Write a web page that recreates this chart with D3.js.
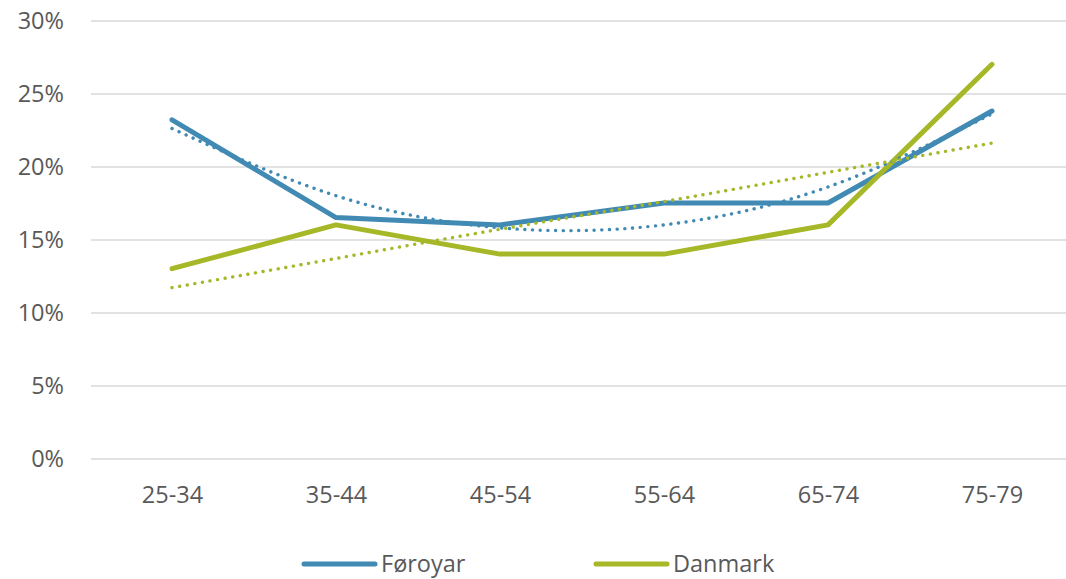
<!DOCTYPE html>
<html>
<head>
<meta charset="utf-8">
<script src="https://cdn.jsdelivr.net/npm/d3@7"></script>
<style>
  body { margin: 0; background: #fff; }
  text { font-family: "Open Sans", "Noto Sans", sans-serif; fill: #595959; }
</style>
</head>
<body>
<div id="chart"></div>
<script>
"use strict";

// age groups along the x axis
var categories = ["25-34", "35-44", "45-54", "55-64", "65-74", "75-79"];
// shares in percent
var foroyar = [23.2, 16.5, 16.0, 17.5, 17.5, 23.8];
var danmark = [13.0, 16.0, 14.0, 14.0, 16.0, 27.0];
var foroyarTrend = [22.6, 18.0, 15.8, 16.0, 18.6, 23.6];
var danmarkTrend = [11.7, 13.7, 15.7, 17.6, 19.6, 21.6];
var yTicks = [0, 5, 10, 15, 20, 25, 30];

var width = 1066, height = 579;

var svg = d3.select("#chart").append("svg")
    .attr("width", width)
    .attr("height", height);

var x = d3.scalePoint().domain(categories).range([172, 992]);
var y = d3.scaleLinear().domain([0, 30]).range([458.5, 20.5]);

// gridlines + y labels
var yAxis = d3.axisLeft(y)
    .tickValues(yTicks)
    .tickSize(-(width - 91))
    .tickPadding(27)
    .tickFormat(function(d) { return d + "%"; });

var gy = svg.append("g")
    .attr("transform", "translate(91,0)")
    .call(yAxis);
gy.select(".domain").remove();
gy.selectAll(".tick line").attr("stroke", "#d9d9d9").attr("stroke-width", 1.3);
gy.selectAll(".tick text").attr("font-size", 23.5).attr("dy", "0.36em");

// x labels
var xAxis = d3.axisBottom(x).tickSize(0).tickPadding(0);
var gx = svg.append("g")
    .attr("transform", "translate(0,495)")
    .call(xAxis);
gx.select(".domain").remove();
gx.selectAll(".tick text").attr("font-size", 23.5).attr("dy", "0.36em");

var series = [
    { name: "Føroyar", values: foroyar, trend: foroyarTrend, color: "#418ab3" },
    { name: "Danmark", values: danmark, trend: danmarkTrend, color: "#a6b727" }
];

var line = d3.line()
    .x(function(d, i) { return x(categories[i]); })
    .y(function(d) { return y(d); });

var smooth = d3.line()
    .x(function(d, i) { return x(categories[i]); })
    .y(function(d) { return y(d); })
    .curve(d3.curveNatural);

series.forEach(function(s) {
    svg.append("path")
        .attr("d", line(s.values))
        .attr("fill", "none")
        .attr("stroke", s.color)
        .attr("stroke-width", 5)
        .attr("stroke-linejoin", "round")
        .attr("stroke-linecap", "round");
});

series.forEach(function(s) {
    svg.append("path")
        .attr("d", smooth(s.trend))
        .attr("fill", "none")
        .attr("stroke", s.color)
        .attr("stroke-width", 3.4)
        .attr("stroke-linecap", "round")
        .attr("stroke-dasharray", "0.1 7.6");
});

// legend
var legendX = [304, 596];
var legend = svg.append("g").selectAll("g")
    .data(series)
    .enter().append("g")
    .attr("transform", function(d, i) { return "translate(" + legendX[i] + ",564)"; });

legend.append("line")
    .attr("x1", 0).attr("x2", 71)
    .attr("stroke", function(d) { return d.color; })
    .attr("stroke-width", 5)
    .attr("stroke-linecap", "round");

legend.append("text")
    .attr("x", 77)
    .attr("dy", "0.36em")
    .attr("font-size", 23.5)
    .text(function(d) { return d.name; });
</script>
</body>
</html>
